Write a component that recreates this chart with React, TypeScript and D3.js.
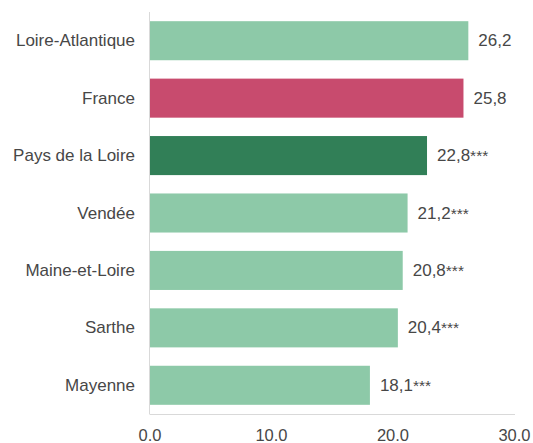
import React from "react";
import * as d3 from "d3";

const categories = ["Loire-Atlantique", "France", "Pays de la Loire", "Vendée", "Maine-et-Loire", "Sarthe", "Mayenne"];
const values = [26.2, 25.8, 22.8, 21.2, 20.8, 20.4, 18.1];
const valueLabels = ["26,2", "25,8", "22,8", "21,2", "20,8", "20,4", "18,1"];
const significance = ["", "", "***", "***", "***", "***", "***"];
const barColors = ["#8DC9A8", "#C84B6E", "#317F57", "#8DC9A8", "#8DC9A8", "#8DC9A8", "#8DC9A8"];
const xTicks = [0, 10, 20, 30];

const W = 533;
const H = 443;
const left = 150;
const right = 514.5;
const top = 12;
const bottom = 414;
const textColor = "#474747";
const font = "'Liberation Sans', Arial, sans-serif";

export default function App() {
  const x = d3.scaleLinear().domain([0, 30]).range([left, right]);
  const y = d3.scaleBand<string>().domain(categories).range([top, bottom]).paddingInner(0.32).paddingOuter(0.16);
  const fmt = (v: number) => v.toFixed(1);
  return (
    <svg width={W} height={H} style={{ position: "absolute", left: 0, top: 0 }} fontFamily={font}>
      <rect x={0} y={0} width={W} height={H} fill="#fff" />
      {categories.map((c, i) => {
        const yy = y(c)!;
        const bw = y.bandwidth();
        return (
          <g key={c}>
            <rect x={x(0)} y={yy} width={x(values[i]) - x(0)} height={bw} fill={barColors[i]} />
            <text x={left - 15} y={yy + bw / 2} dy="0.33em" textAnchor="end" fontSize={17} fill={textColor}>
              {c}
            </text>
            <text x={x(values[i]) + 10} y={yy + bw / 2} dy="0.33em" fontSize={17} fill={textColor}>
              {valueLabels[i]}
              {significance[i] && <tspan fontSize={15.5}>{significance[i]}</tspan>}
            </text>
          </g>
        );
      })}
      <line x1={left - 0.5} x2={left - 0.5} y1={top} y2={bottom} stroke="#D9D9D9" strokeWidth={1} />
      <line x1={left - 0.5} x2={right + 0.5} y1={bottom + 0.5} y2={bottom + 0.5} stroke="#D9D9D9" strokeWidth={1} />
      {xTicks.map((t) => (
        <text key={t} x={x(t)} y={440.5} textAnchor="middle" fontSize={16.5} fill={textColor}>
          {fmt(t)}
        </text>
      ))}
    </svg>
  );
}
